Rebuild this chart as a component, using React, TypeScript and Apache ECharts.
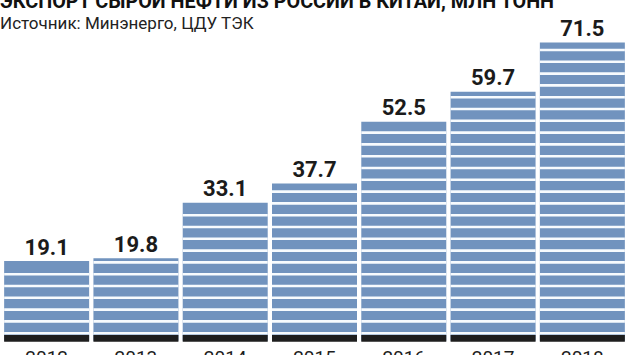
import React, { useEffect, useRef } from "react";
import * as echarts from "echarts";

const title = "ЭКСПОРТ СЫРОЙ НЕФТИ ИЗ РОССИИ В КИТАЙ, МЛН ТОНН";
const subtitle = "Источник: Минэнерго, ЦДУ ТЭК";
const years = ["2012", "2013", "2014", "2015", "2016", "2017", "2018"];
const exportVolumes = [19.1, 19.8, 33.1, 37.7, 52.5, 59.7, 71.5];

const BAR_W = 85;
const BLUE = "#7193be";
const STRIPE_PERIOD = 11.8;
const STRIPE_H = 2.6;

export default function App() {
  const ref = useRef<HTMLDivElement>(null);
  useEffect(() => {
    if (!ref.current) return;
    const chart = echarts.init(ref.current, undefined, { renderer: "svg" });
    chart.setOption({
      animation: false,
      backgroundColor: "#ffffff",
      grid: {
        left: 2,
        right: 3,
        top: 7.1,
        bottom: 14.3,
        containLabel: false,
        outerBoundsMode: "none",
      },
      xAxis: {
        type: "category",
        data: years,
        axisLine: { show: false },
        axisTick: { show: false },
        axisLabel: {
          margin: 7,
          fontFamily: "Roboto",
          fontSize: 19,
          lineHeight: 19,
          color: "#1d1d1d",
        },
      },
      yAxis: { type: "value", min: 0, max: 80, show: false },
      graphic: [
        {
          type: "text",
          x: 0,
          y: 1,
          style: {
            text: title,
            fontFamily: "Roboto",
            fontWeight: "bold",
            fontSize: 19.8,
            fill: "#111",
            verticalAlign: "middle",
          },
        },
        {
          type: "text",
          x: 0,
          y: 23,
          style: {
            text: subtitle,
            fontFamily: "Roboto",
            fontSize: 17,
            fill: "#222",
            verticalAlign: "middle",
          },
        },
      ],
      series: [
        {
          type: "bar",
          data: exportVolumes,
          barWidth: BAR_W,
          itemStyle: { color: BLUE },
          label: {
            show: true,
            position: "top",
            distance: 3,
            formatter: (p: any) => Number(p.value).toFixed(1),
            fontFamily: "Roboto",
            fontWeight: "bold",
            fontSize: 22,
            lineHeight: 22,
            color: "#1b1b1b",
          },
          z: 2,
        },
        {
          type: "custom",
          data: exportVolumes.map((v, i) => [i, v]),
          z: 3,
          silent: true,
          renderItem: (params: any, api: any) => {
            const i = api.value(0);
            const v = api.value(1);
            const base = api.coord([i, 0]);
            const top = api.coord([i, v]);
            const x = base[0] - BAR_W / 2;
            const children: any[] = [];
            let k = 0;
            while (true) {
              const cy = base[1] - 7.5 - STRIPE_PERIOD * k;
              if (cy - STRIPE_H / 2 < top[1] + 0.8) break;
              children.push({
                type: "rect",
                shape: { x, y: cy - STRIPE_H / 2, width: BAR_W, height: STRIPE_H },
                style: { fill: "#f7fbfe" },
              });
              k++;
            }
            children.push({
              type: "rect",
              shape: { x, y: base[1] - 5.7, width: BAR_W, height: 6.7 },
              style: { fill: "#1e1e1e" },
            });
            return { type: "group", children };
          },
        },
      ],
    });
    return () => chart.dispose();
  }, []);
  return <div ref={ref} style={{ width: 630, height: 355, position: "absolute", left: 0, top: 0 }} />;
}
